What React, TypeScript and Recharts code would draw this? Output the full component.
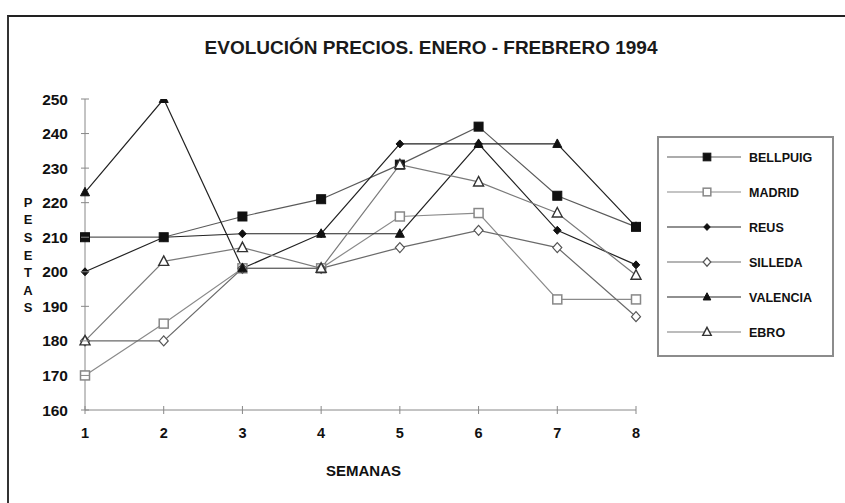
import React from 'react';
import { LineChart, Line, XAxis, YAxis, Legend } from 'recharts';

const weeks = ['1', '2', '3', '4', '5', '6', '7', '8'];
const bellpuig = [210, 210, 216, 221, 231, 242, 222, 213];
const madrid = [170, 185, 201, 201, 216, 217, 192, 192];
const reus = [200, 210, 211, 211, 237, 237, 212, 202];
const silleda = [180, 180, 201, 201, 207, 212, 207, 187];
const valencia = [223, 250, 201, 211, 211, 237, 237, 213];
const ebro = [180, 203, 207, 201, 231, 226, 217, 199];
const yTicks = [160, 170, 180, 190, 200, 210, 220, 230, 240, 250];
const titleText = 'EVOLUCIÓN PRECIOS. ENERO - FREBRERO 1994';
const xTitle = 'SEMANAS';
const yTitle = 'PESETAS';

const FONT = "'Liberation Sans', Arial, sans-serif";

type Shape = 'square' | 'osquare' | 'dot' | 'odiamond' | 'triangle' | 'otriangle';

const series: { key: string; values: number[]; line: string; shape: Shape; mark: string }[] = [
  { key: 'BELLPUIG', values: bellpuig, line: '#5a5a5a', shape: 'square', mark: '#111' },
  { key: 'MADRID', values: madrid, line: '#8a8a8a', shape: 'osquare', mark: '#888' },
  { key: 'REUS', values: reus, line: '#222', shape: 'dot', mark: '#111' },
  { key: 'SILLEDA', values: silleda, line: '#6a6a6a', shape: 'odiamond', mark: '#555' },
  { key: 'VALENCIA', values: valencia, line: '#222', shape: 'triangle', mark: '#111' },
  { key: 'EBRO', values: ebro, line: '#7a7a7a', shape: 'otriangle', mark: '#333' },
];

const data = weeks.map((w, i) => {
  const row: Record<string, string | number> = { week: w };
  series.forEach((s) => {
    row[s.key] = s.values[i];
  });
  return row;
});

function Marker({ shape, cx, cy, color, scale = 1 }: { shape: Shape; cx: number; cy: number; color: string; scale?: number }) {
  const k = scale;
  switch (shape) {
    case 'square':
      return <rect x={cx - 4.5 * k} y={cy - 4.5 * k} width={9 * k} height={9 * k} fill={color} stroke={color} strokeWidth={1} />;
    case 'osquare':
      return <rect x={cx - 4.5 * k} y={cy - 4.5 * k} width={9 * k} height={9 * k} fill="#fff" stroke={color} strokeWidth={1.5} />;
    case 'dot':
      return (
        <path
          d={`M${cx},${cy - 4 * k}L${cx + 3.8 * k},${cy}L${cx},${cy + 4 * k}L${cx - 3.8 * k},${cy}Z`}
          fill={color}
          stroke={color}
          strokeWidth={1}
        />
      );
    case 'odiamond':
      return (
        <path
          d={`M${cx},${cy - 5 * k}L${cx + 4.5 * k},${cy}L${cx},${cy + 5 * k}L${cx - 4.5 * k},${cy}Z`}
          fill="#fff"
          stroke={color}
          strokeWidth={1.2}
        />
      );
    case 'triangle':
      return (
        <path
          d={`M${cx},${cy - 5 * k}L${cx + 4.5 * k},${cy + 3.5 * k}L${cx - 4.5 * k},${cy + 3.5 * k}Z`}
          fill={color}
          stroke={color}
          strokeWidth={1}
        />
      );
    default:
      return (
        <path
          d={`M${cx},${cy - 5.5 * k}L${cx + 5 * k},${cy + 4 * k}L${cx - 5 * k},${cy + 4 * k}Z`}
          fill="#fff"
          stroke={color}
          strokeWidth={1.4}
        />
      );
  }
}

const YTick = (props: any) => {
  const { x, y, payload } = props;
  return (
    <g>
      <line x1={x - 4} x2={x + 4} y1={y} y2={y} stroke="#888" strokeWidth={1} />
      <text x={x - 17} y={y + 5.5} textAnchor="end" fontFamily={FONT} fontWeight="bold" fontSize={15.5} fill="#111">
        {payload.value}
      </text>
    </g>
  );
};

const XTick = (props: any) => {
  const { x, y, payload } = props;
  return (
    <g>
      <line x1={x} x2={x} y1={y - 4} y2={y + 4} stroke="#888" strokeWidth={1} />
      <text x={x} y={y + 28} textAnchor="middle" fontFamily={FONT} fontWeight="bold" fontSize={14.5} fill="#111">
        {payload.value}
      </text>
    </g>
  );
};

const YLabel = (props: any) => {
  const vb = props.viewBox || {};
  const cy = (vb.y ?? 99) + (vb.height ?? 311) / 2;
  const letters = yTitle.split('');
  const step = 17.6;
  return (
    <g>
      {letters.map((ch, i) => (
        <text
          key={i}
          x={(vb.x ?? 25) + 3}
          y={cy + (i - (letters.length - 1) / 2) * step + 5}
          textAnchor="middle"
          fontFamily={FONT}
          fontWeight="bold"
          fontSize={13}
          fill="#111"
        >
          {ch}
        </text>
      ))}
    </g>
  );
};

const XLabel = (props: any) => {
  const vb = props.viewBox || {};
  const cx = (vb.x ?? 85) + (vb.width ?? 551) / 2;
  return (
    <text x={cx + 3} y={(vb.y ?? 410) + 66} textAnchor="middle" fontFamily={FONT} fontWeight="bold" fontSize={15} fill="#111">
      {xTitle}
    </text>
  );
};

const LegendBox = () => {
  const rowY = (i: number) => 21 + i * 35;
  return (
    <svg width={178} height={222} style={{ display: 'block' }}>
      <rect x={1} y={1} width={175} height={219} fill="#fff" stroke="#8c8c8c" strokeWidth={2} />
      {series.map((s, i) => (
        <g key={s.key}>
          <line x1={10} x2={84} y1={rowY(i)} y2={rowY(i)} stroke={s.line} strokeWidth={1.2} />
          <Marker shape={s.shape} cx={50} cy={rowY(i)} color={s.mark} scale={0.85} />
          <text x={92} y={rowY(i) + 4.5} fontFamily={FONT} fontWeight="bold" fontSize={12.5} fill="#111">
            {s.key}
          </text>
        </g>
      ))}
    </svg>
  );
};

export default function App() {
  return (
    <div style={{ position: 'absolute', left: 0, top: 0, width: 845, height: 503, background: '#fff', overflow: 'hidden' }}>
      <div
        style={{
          position: 'absolute',
          left: 7,
          top: 15,
          width: 860,
          height: 520,
          borderTop: '2px solid #222',
          borderLeft: '2px solid #333',
        }}
      />
      <svg width={845} height={80} style={{ position: 'absolute', left: 0, top: 0 }}>
        <text x={431} y={54} textAnchor="middle" fontFamily={FONT} fontWeight="bold" fontSize={19} fill="#1a1a1a">
          {titleText}
        </text>
      </svg>
      <div style={{ position: 'absolute', left: 0, top: 0 }}>
        <LineChart width={845} height={503} data={data} margin={{ top: 99, right: 209, bottom: 63, left: 25 }}>
          <XAxis
            dataKey="week"
            padding={{ left: 0, right: 0 }}
            height={30}
            stroke="#888"
            tickLine={false}
            tickSize={0}
            tickMargin={0}
            tick={<XTick />}
            interval={0}
            label={{ content: <XLabel /> }}
          />
          <YAxis
            domain={[160, 250]}
            ticks={yTicks}
            width={60}
            stroke="#888"
            tickLine={false}
            tickSize={0}
            tickMargin={0}
            tick={<YTick />}
            interval={0}
            allowDataOverflow
            label={{ content: <YLabel /> }}
          />
          <Legend
            layout="vertical"
            align="center"
            verticalAlign="middle"
            wrapperStyle={{ position: 'absolute', left: 657, top: 136, width: 178, height: 222 }}
            content={() => <LegendBox />}
          />
          {series.map((s) => (
            <Line
              key={s.key}
              type="linear"
              dataKey={s.key}
              stroke={s.line}
              strokeWidth={1.2}
              isAnimationActive={false}
              dot={(p: any) => <Marker key={`${s.key}-${p.index}`} shape={s.shape} cx={p.cx} cy={p.cy} color={s.mark} />}
              activeDot={false}
            />
          ))}
        </LineChart>
      </div>
    </div>
  );
}
